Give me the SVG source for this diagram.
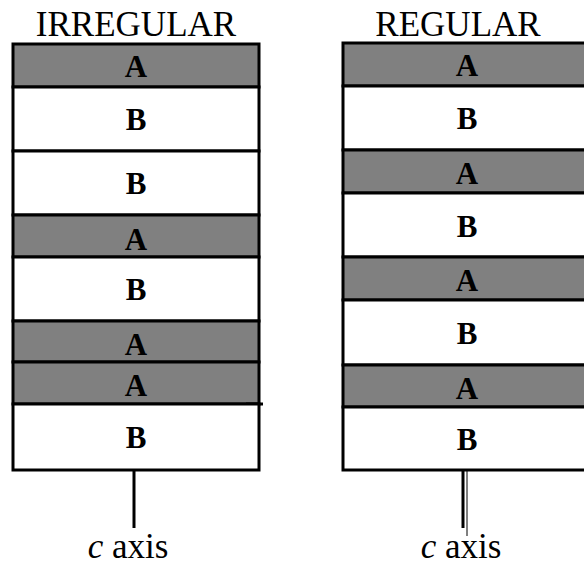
<svg xmlns="http://www.w3.org/2000/svg" width="584" height="567" viewBox="0 0 584 567">
<style>
.a{fill:#808080;stroke:#000;stroke-width:3}
.b{fill:#fff;stroke:#000;stroke-width:3}
.l{font-family:"Liberation Serif",serif;font-weight:bold;font-size:31px;text-anchor:middle;fill:#000}
.t{font-family:"Liberation Serif",serif;font-size:35px;text-anchor:middle;fill:#000}
.ax{stroke:#000;stroke-width:3;fill:none}
</style>
<rect width="584" height="567" fill="#fff"/>
<text class="t" x="136" y="36">IRREGULAR</text>
<text class="t" x="458" y="36">REGULAR</text>
<g id="irregular">
<g id="i1"><rect class="a" x="13" y="44" width="246" height="43"/><text class="l" x="136" y="77">A</text></g>
<g id="i2"><rect class="b" x="13" y="87" width="246" height="64"/><text class="l" x="136" y="130">B</text></g>
<g id="i3"><rect class="b" x="13" y="151" width="246" height="64"/><text class="l" x="136" y="194">B</text></g>
<g id="i4"><rect class="a" x="13" y="215" width="246" height="42"/><text class="l" x="136" y="250">A</text></g>
<g id="i5"><rect class="b" x="13" y="257" width="246" height="64"/><text class="l" x="136" y="300">B</text></g>
<g id="i6"><rect class="a" x="13" y="321" width="246" height="41"/><text class="l" x="136" y="355">A</text></g>
<g id="i7"><rect class="a" x="13" y="362" width="246" height="42"/><text class="l" x="136" y="396">A</text><line x1="246" y1="404" x2="263" y2="404" stroke="#000" stroke-width="3"/></g>
<g id="i8"><rect class="b" x="13" y="404" width="246" height="66"/><text class="l" x="136" y="448">B</text></g>
</g>
<g id="regular">
<g id="r1"><rect class="a" x="343" y="43" width="260" height="43"/><text class="l" x="467" y="76">A</text></g>
<g id="r2"><rect class="b" x="343" y="86" width="260" height="64"/><text class="l" x="467" y="129">B</text></g>
<g id="r3"><rect class="a" x="343" y="150" width="260" height="43"/><text class="l" x="467" y="184">A</text></g>
<g id="r4"><rect class="b" x="343" y="193" width="260" height="64"/><text class="l" x="467" y="237">B</text></g>
<g id="r5"><rect class="a" x="343" y="257" width="260" height="43"/><text class="l" x="467" y="291">A</text></g>
<g id="r6"><rect class="b" x="343" y="300" width="260" height="65"/><text class="l" x="467" y="344">B</text></g>
<g id="r7"><rect class="a" x="343" y="365" width="260" height="42"/><text class="l" x="467" y="399">A</text></g>
<g id="r8"><rect class="b" x="343" y="407" width="260" height="63"/><text class="l" x="467" y="450">B</text></g>
</g>
<g id="connectors">
<line class="ax" x1="134" y1="470" x2="134" y2="528"/>
<line class="ax" x1="463" y1="471" x2="463" y2="528"/>
<line x1="467" y1="471" x2="467" y2="536" stroke="#000" stroke-width="1"/>
</g>
<text class="t" x="128" y="558" font-size="34"><tspan font-style="italic">c</tspan> axis</text>
<text class="t" x="461" y="558" font-size="34"><tspan font-style="italic">c</tspan> axis</text>
</svg>
